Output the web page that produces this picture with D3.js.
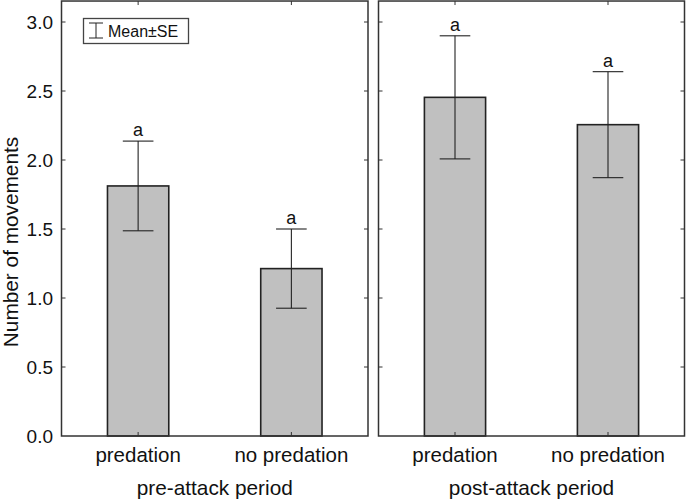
<!DOCTYPE html>
<html>
<head>
<meta charset="utf-8">
<script src="https://cdn.jsdelivr.net/npm/d3@7"></script>
<style>
  html, body { margin: 0; padding: 0; background: #fff; }
  svg { display: block; font-family: Arial, "Liberation Sans", sans-serif; }
</style>
</head>
<body>
<svg id="chart" width="687" height="500"></svg>
<script>
// ---- data ----
const periods = ["pre-attack period", "post-attack period"];
const categories = ["predation", "no predation"];
const preMeans = [1.812, 1.213];
const preSE = [0.325, 0.287];
const postMeans = [2.454, 2.256];
const postSE = [0.446, 0.384];
const letters = [["a", "a"], ["a", "a"]];
const yTicks = [0, 0.5, 1.0, 1.5, 2.0, 2.5, 3.0];
const yLabel = "Number of movements";
const legendLabel = "Mean±SE";

const panelMeans = [preMeans, postMeans];
const panelSE = [preSE, postSE];

const svg = d3.select("#chart");
const frameColor = "#333";

const y = d3.scaleLinear().domain([0, 3]).range([436, 22]);
const yTop = 3.152;
const panels = [[61.5, 368], [378.5, 684.5]];

panels.forEach((ext, p) => {
  const x = d3.scaleBand().domain(categories).range(ext).paddingInner(0.6).paddingOuter(0.3);
  const g = svg.append("g");
  const means = panelMeans[p], se = panelSE[p];
  const data = categories.map((c, i) => ({ c, m: means[i], s: se[i], l: letters[p][i] }));

  g.selectAll("rect.bar").data(data).join("rect")
    .attr("class", "bar")
    .attr("x", d => x(d.c))
    .attr("width", x.bandwidth())
    .attr("y", d => y(d.m))
    .attr("height", d => y(0) - y(d.m))
    .attr("fill", "#c0c0c0")
    .attr("stroke", "#222")
    .attr("stroke-width", 1.6);

  const cx = d => x(d.c) + x.bandwidth() / 2;
  const capW = x.bandwidth() / 4;
  g.selectAll("line.err").data(data).join("line")
    .attr("x1", cx).attr("x2", cx)
    .attr("y1", d => y(d.m + d.s)).attr("y2", d => y(d.m - d.s))
    .attr("stroke", "#222").attr("stroke-width", 1.1);
  g.selectAll("line.capT").data(data).join("line")
    .attr("x1", d => cx(d) - capW).attr("x2", d => cx(d) + capW)
    .attr("y1", d => y(d.m + d.s)).attr("y2", d => y(d.m + d.s))
    .attr("stroke", "#222").attr("stroke-width", 1.1);
  g.selectAll("line.capB").data(data).join("line")
    .attr("x1", d => cx(d) - capW).attr("x2", d => cx(d) + capW)
    .attr("y1", d => y(d.m - d.s)).attr("y2", d => y(d.m - d.s))
    .attr("stroke", "#222").attr("stroke-width", 1.1);
  g.selectAll("text.let").data(data).join("text")
    .attr("x", cx).attr("y", d => y(d.m + d.s) - 5)
    .attr("text-anchor", "middle")
    .attr("font-size", 18).attr("fill", "#111")
    .text(d => d.l);

  g.append("rect")
    .attr("x", ext[0]).attr("y", y(yTop))
    .attr("width", ext[1] - ext[0]).attr("height", y(0) - y(yTop))
    .attr("fill", "none").attr("stroke", frameColor).attr("stroke-width", 1.5);

  yTicks.slice(1).forEach(t => {
    g.append("line").attr("x1", ext[0]).attr("x2", ext[0] + 4)
      .attr("y1", y(t)).attr("y2", y(t)).attr("stroke", frameColor).attr("stroke-width", 1);
    g.append("line").attr("x1", ext[1] - 4).attr("x2", ext[1])
      .attr("y1", y(t)).attr("y2", y(t)).attr("stroke", frameColor).attr("stroke-width", 1);
  });
  categories.forEach(c => {
    const xc = x(c) + x.bandwidth() / 2;
    g.append("line").attr("x1", xc).attr("x2", xc).attr("y1", y(yTop)).attr("y2", y(yTop) + 4)
      .attr("stroke", frameColor).attr("stroke-width", 1);
    g.append("line").attr("x1", xc).attr("x2", xc).attr("y1", y(0)).attr("y2", y(0) - 4)
      .attr("stroke", frameColor).attr("stroke-width", 1);
    g.append("text").attr("x", xc).attr("y", 462)
      .attr("text-anchor", "middle").attr("font-size", 20.5).attr("fill", "#111")
      .text(c);
  });
  g.append("text").attr("x", (ext[0] + ext[1]) / 2).attr("y", 495)
    .attr("text-anchor", "middle").attr("font-size", 20.8).attr("fill", "#111")
    .text(periods[p]);
});

svg.append("g").selectAll("text").data(yTicks).join("text")
  .attr("x", 53).attr("y", d => y(d) + 6.5)
  .attr("text-anchor", "end").attr("font-size", 19).attr("fill", "#111")
  .text(d => d3.format(".1f")(d));

svg.append("text")
  .attr("transform", `translate(17.5,242) rotate(-90)`)
  .attr("text-anchor", "middle").attr("font-size", 20.8).attr("fill", "#111")
  .text(yLabel);

const lg = svg.append("g");
lg.append("rect").attr("x", 83.5).attr("y", 18.5).attr("width", 105).attr("height", 25)
  .attr("fill", "#fff").attr("stroke", "#444").attr("stroke-width", 1.3);
lg.append("line").attr("x1", 96).attr("x2", 96).attr("y1", 23).attr("y2", 38).attr("stroke", "#222");
lg.append("line").attr("x1", 89).attr("x2", 103).attr("y1", 23).attr("y2", 23).attr("stroke", "#222");
lg.append("line").attr("x1", 89).attr("x2", 103).attr("y1", 38).attr("y2", 38).attr("stroke", "#222");
lg.append("text").attr("x", 108).attr("y", 37).attr("font-size", 16).attr("fill", "#111").text(legendLabel);
</script>
</body>
</html>
